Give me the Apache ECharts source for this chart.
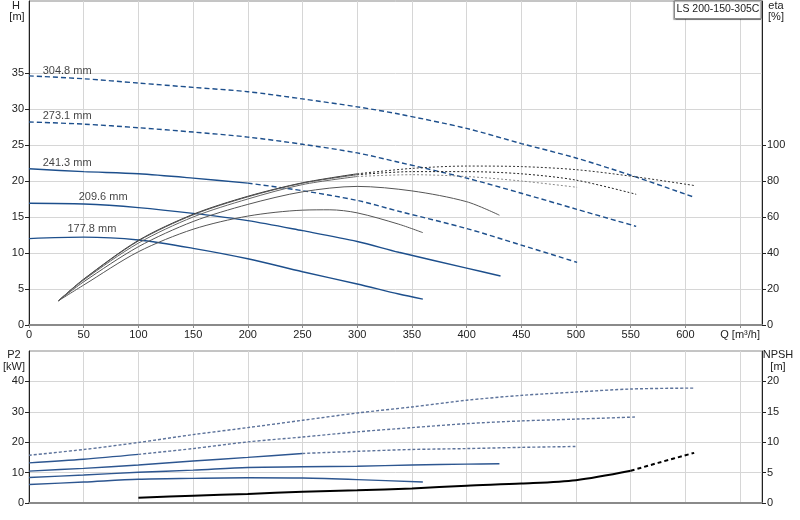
<!DOCTYPE html>
<html>
<head>
<meta charset="utf-8">
<title>LS 200-150-305C</title>
<style>
  html, body { margin: 0; padding: 0; background: #fff; }
  #chart { width: 800px; height: 520px; }
</style>
<script src="https://cdn.jsdelivr.net/npm/echarts@6.0.0/dist/echarts.min.js"></script>
</head>
<body>
<div id="chart"></div>
<script>
// impeller diameters
var impellers = ['304.8 mm', '273.1 mm', '241.3 mm', '209.6 mm', '177.8 mm'];

// head H [m] vs Q [m3/h]
var head3048 = [[0, 34.6], [50, 34.2], [100, 33.6], [150, 33.0], [200, 32.4], [250, 31.4], [300, 30.3], [338, 29.3], [400, 27.3], [450, 25.2], [500, 23.2], [550, 20.8], [607, 17.8]];
var head2731 = [[0, 28.2], [50, 27.9], [100, 27.4], [150, 26.8], [200, 26.1], [250, 25.1], [300, 23.9], [338, 22.6], [400, 20.4], [450, 18.3], [500, 16.1], [555, 13.7]];
var head2413 = [[0, 21.7], [50, 21.3], [100, 21.0], [150, 20.4], [200, 19.7], [250, 18.65], [300, 17.3], [338, 15.8], [400, 13.4], [450, 11.1], [501, 8.7]];
var head2096 = [[0, 16.9], [50, 16.8], [100, 16.3], [150, 15.5], [200, 14.5], [250, 13.1], [300, 11.6], [338, 10.1], [400, 7.9], [431, 6.8]];
var head1778 = [[0, 12.0], [50, 12.2], [100, 11.8], [150, 10.65], [200, 9.2], [250, 7.4], [300, 5.7], [338, 4.3], [360, 3.6]];

// efficiency eta [%]
var eta3048 = [[27, 13.5], [50, 25.5], [100, 47], [150, 61.5], [200, 71.5], [250, 79], [300, 84], [350, 87], [400, 88.3], [450, 88], [500, 86.3], [550, 82.7], [609, 77.4]];
var eta2731 = [[27, 13.5], [50, 25.3], [100, 46.7], [150, 61.2], [200, 71.2], [250, 78.8], [300, 83.5], [350, 85.2], [400, 85.2], [450, 84], [500, 80.5], [555, 72.6]];
var eta2413 = [[27, 13.5], [50, 25], [100, 45.5], [150, 60], [200, 70], [250, 78], [300, 82.5], [350, 83.5], [400, 82.5], [450, 80], [501, 76.5]];
var eta2096 = [[27, 13.5], [50, 24], [100, 43.5], [150, 57.5], [200, 67], [250, 74], [300, 77], [350, 74.5], [400, 68.5], [430, 61]];
var eta1778 = [[27, 13.5], [50, 22.2], [100, 40.7], [150, 53.2], [200, 60.5], [250, 63.8], [275, 64], [300, 62.3], [338, 56], [360, 51.3]];

// shaft power P2 [kW]
var p23048 = [[0, 15.7], [50, 17.6], [100, 19.9], [150, 22.5], [200, 24.8], [250, 27.2], [300, 29.6], [350, 31.6], [400, 33.8], [450, 35.4], [500, 36.5], [550, 37.5], [608, 37.8]];
var p22731 = [[0, 13.2], [50, 14.4], [100, 16.0], [150, 17.9], [200, 20.1], [250, 21.7], [300, 23.4], [350, 24.8], [400, 26.1], [450, 27.0], [500, 27.6], [555, 28.3]];
var p22413 = [[0, 10.5], [50, 11.4], [100, 12.5], [150, 13.8], [200, 15.0], [250, 16.3], [300, 17.0], [350, 17.6], [400, 17.9], [450, 18.3], [501, 18.6]];
var p22096 = [[0, 8.4], [50, 9.2], [100, 10.1], [150, 10.8], [200, 11.7], [250, 11.9], [300, 12.1], [350, 12.5], [400, 12.8], [430, 12.9]];
var p21778 = [[0, 6.1], [50, 6.9], [100, 7.8], [150, 8.1], [200, 8.3], [250, 8.2], [300, 7.7], [360, 6.9]];

// NPSH [m]
var npsh = [[100, 0.87], [150, 1.2], [200, 1.5], [250, 1.85], [300, 2.1], [350, 2.4], [400, 2.85], [450, 3.2], [500, 3.75], [550, 5.3], [575, 6.6], [608, 8.25]];

// duty point
var duty = [[414, 27.9]];

// tick labels
var hTicks = [0, 5, 10, 15, 20, 25, 30, 35];
var etaTicks = [0, 20, 40, 60, 80, 100];
var p2Ticks = [0, 10, 20, 30, 40];
var npshTicks = [0, 5, 10, 15, 20];
var qTicks = [0, 50, 100, 150, 200, 250, 300, 350, 400, 450, 500, 550, 600, 650];

var chart = echarts.init(document.getElementById('chart'));

var BLUE = '#1d4f8c';
var FONT = 'Liberation Sans, Arial, sans-serif';

// cut a curve into a piece between two Q values
function part(data, from, to) {
    return data.filter(function (p) { return p[0] >= from && p[0] <= to; });
}

function line(data, x, y, color, width, type) {
    return {
        type: 'line',
        xAxisIndex: x,
        yAxisIndex: y,
        data: data,
        symbol: 'none',
        smooth: 0.3,
        silent: true,
        lineStyle: { color: color, width: width, type: type }
    };
}

function yAx(grid, pos, max, step, ticks) {
    return {
        type: 'value',
        gridIndex: grid,
        position: pos,
        min: 0,
        max: max,
        interval: step,
        axisLine: { show: true, lineStyle: { color: '#222', width: 1 } },
        axisTick: { show: true, length: 4, customValues: ticks, lineStyle: { color: '#222' } },
        axisLabel: {
            color: '#222', fontSize: 11, fontFamily: FONT, margin: 5, customValues: ticks,
            formatter: function (v) { return ticks.indexOf(v) < 0 ? '' : v; }
        },
        splitLine: { show: pos === 'left', lineStyle: { color: '#d6d6d6', width: 1 } }
    };
}

function xAx(grid, labels) {
    return {
        type: 'value',
        gridIndex: grid,
        min: 0,
        max: 670,
        interval: 50,
        axisLine: { show: true, onZero: false, lineStyle: { color: '#8a8a8a', width: 2 } },
        axisTick: { show: labels, length: 3, customValues: qTicks, lineStyle: { color: '#8a8a8a' } },
        axisLabel: {
            show: labels, color: '#222', fontSize: 11, fontFamily: FONT, margin: 4, customValues: qTicks,
            formatter: function (v) { return v === 650 ? 'Q [m³/h]' : (qTicks.indexOf(v) < 0 ? '' : v); }
        },
        splitLine: { show: true, lineStyle: { color: '#d6d6d6', width: 1 } }
    };
}

var series = [
    // head curves
    line(head3048, 0, 0, BLUE, 1.4, [5, 3]),
    line(head2731, 0, 0, BLUE, 1.4, [5, 3]),
    line(part(head2413, 0, 200), 0, 0, BLUE, 1.4, 'solid'),
    line(part(head2413, 200, 600), 0, 0, BLUE, 1.4, [5, 3]),
    line(head2096, 0, 0, BLUE, 1.4, 'solid'),
    line(head1778, 0, 0, BLUE, 1.4, 'solid'),
    // efficiency curves
    line(part(eta3048, 0, 300), 0, 1, '#333', 1, 'solid'),
    line(part(eta3048, 300, 700), 0, 1, '#333', 1, [2, 2]),
    line(part(eta2731, 0, 300), 0, 1, '#555', 1, 'solid'),
    line(part(eta2731, 300, 700), 0, 1, '#222', 1, [2, 2]),
    line(part(eta2413, 0, 300), 0, 1, '#666', 1, 'solid'),
    line(part(eta2413, 300, 700), 0, 1, '#888', 1, [2, 2]),
    line(eta2096, 0, 1, '#555', 1, 'solid'),
    line(eta1778, 0, 1, '#555', 1, 'solid'),
    // power curves
    line(p23048, 1, 2, '#5d739b', 1.4, [3, 2]),
    line(part(p22731, 0, 100), 1, 2, '#2d5690', 1.4, 'solid'),
    line(part(p22731, 100, 700), 1, 2, '#5d739b', 1.4, [3, 2]),
    line(part(p22413, 0, 250), 1, 2, '#2d5690', 1.4, 'solid'),
    line(part(p22413, 250, 700), 1, 2, '#5d739b', 1.4, [3, 2]),
    line(p22096, 1, 2, '#2d5690', 1.4, 'solid'),
    line(p21778, 1, 2, '#2d5690', 1.4, 'solid'),
    // NPSH
    line(part(npsh, 0, 550), 1, 3, '#000', 2, 'solid'),
    line(part(npsh, 550, 700), 1, 3, '#000', 2, [4, 3]),
    // duty point
    {
        type: 'scatter', xAxisIndex: 0, yAxisIndex: 0, data: duty,
        symbol: 'emptyCircle', symbolSize: 8, silent: true,
        itemStyle: { color: '#fff', borderColor: '#f05050', borderWidth: 1 }
    },
    // impeller labels
    {
        type: 'scatter', xAxisIndex: 0, yAxisIndex: 0, symbolSize: 0, silent: true,
        data: [
            [12.5, 35.3, impellers[0]],
            [12.5, 29.0, impellers[1]],
            [12.5, 22.5, impellers[2]],
            [45.4, 17.8, impellers[3]],
            [35.1, 13.3, impellers[4]]
        ],
        label: {
            show: true, position: [0, 0], align: 'left', verticalAlign: 'middle',
            color: '#111', fontSize: 11, fontFamily: FONT,
            formatter: function (p) { return p.value[2]; }
        }
    }
];

function txt(x, y, s, size) {
    return {
        type: 'text', x: x, y: y, z: 100, silent: true,
        style: { text: s, fill: '#222', font: (size || 11) + 'px ' + FONT, align: 'center', verticalAlign: 'middle' }
    };
}

var option = {
    animation: false,
    grid: [
        { left: 29, right: 38, top: 1, bottom: 195, show: true, borderColor: '#8a8a8a', borderWidth: 1 },
        { left: 29, right: 38, top: 351, bottom: 17, show: true, borderColor: '#8a8a8a', borderWidth: 1 }
    ],
    xAxis: [xAx(0, true), xAx(1, false)],
    yAxis: [
        yAx(0, 'left', 45, 5, hTicks),
        yAx(0, 'right', 180, 20, etaTicks),
        yAx(1, 'left', 50, 10, p2Ticks),
        yAx(1, 'right', 25, 5, npshTicks)
    ],
    graphic: [
        txt(16, 6, 'H'),
        txt(17, 17, '[m]'),
        txt(776, 6, 'eta'),
        txt(776, 17, '[%]'),
        txt(14, 355, 'P2'),
        txt(14, 367, '[kW]'),
        txt(778, 355, 'NPSH'),
        txt(778, 367, '[m]'),
        // model box
        {
            type: 'rect', x: 674.5, y: 0.5, z: 100, silent: true,
            shape: { width: 87, height: 18 },
            style: { fill: '#fff', stroke: '#8a8a8a', lineWidth: 1, shadowColor: 'rgba(0,0,0,0.35)', shadowOffsetX: -1, shadowOffsetY: 1, shadowBlur: 1 }
        },
        txt(718, 9.5, 'LS 200-150-305C', 10.5)
    ],
    series: series
};

chart.setOption(option);
</script>
</body>
</html>
